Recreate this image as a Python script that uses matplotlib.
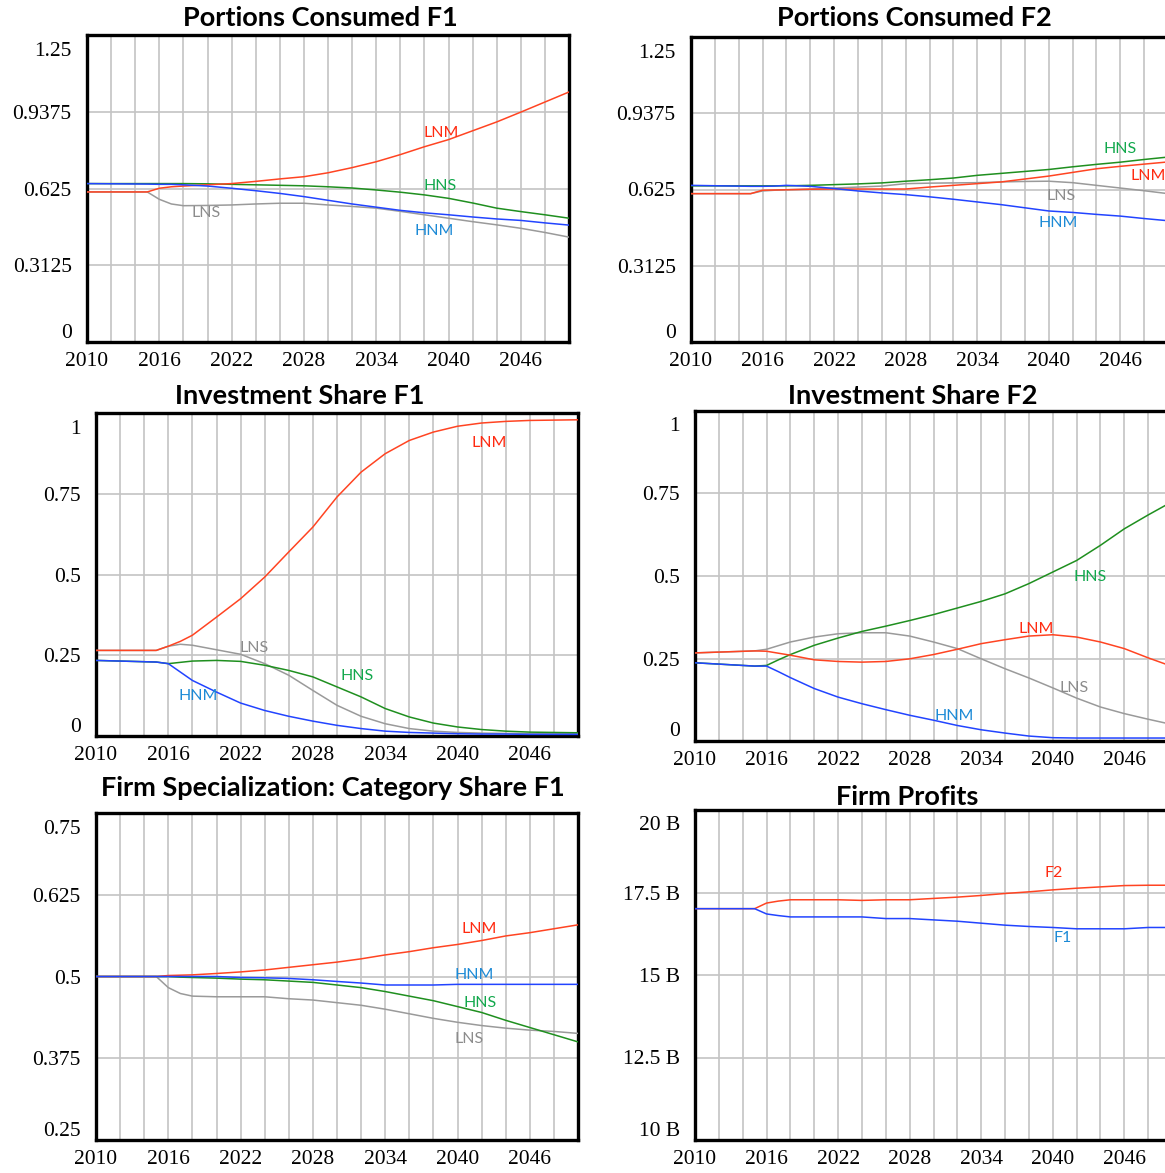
import matplotlib
matplotlib.use("Agg")
import matplotlib.pyplot as plt
from matplotlib.ticker import MultipleLocator, FixedLocator

# ---- data ----
YEARS = [2010, 2015, 2016, 2017, 2018, 2020, 2022, 2024, 2026, 2028, 2030,
         2032, 2034, 2036, 2038, 2040, 2042, 2044, 2046, 2048, 2050]

# Portions Consumed F1
pc1_lnm = [.611, .611, .626, .632, .635, .640, .645, .654, .664, .673, .689,
           .710, .734, .763, .795, .824, .860, .896, .936, .977, 1.018]
pc1_hns = [.645, .645, .645, .645, .645, .644, .642, .640, .638, .636, .632,
           .627, .619, .610, .599, .585, .566, .545, .531, .518, .504]
pc1_hnm = [.645, .643, .642, .642, .640, .635, .626, .616, .605, .592, .577,
           .562, .549, .536, .526, .518, .509, .501, .495, .485, .476]
pc1_lns = [.611, .611, .581, .562, .555, .556, .558, .562, .565, .565, .558,
           .552, .545, .532, .518, .504, .490, .477, .463, .446, .427]

# Portions Consumed F2
pc2_lnm = [.608, .608, .622, .623, .624, .626, .627, .627, .627, .627, .635,
           .642, .649, .656, .668, .680, .695, .710, .720, .729, .738]
pc2_hns = [.640, .640, .640, .640, .640, .642, .645, .648, .652, .659, .665,
           .672, .683, .691, .699, .707, .718, .728, .737, .748, .758]
pc2_hnm = [.642, .638, .638, .639, .642, .638, .629, .619, .611, .604, .595,
           .585, .574, .563, .550, .537, .531, .523, .516, .506, .497]
pc2_lns = [.608, .608, .619, .622, .624, .627, .631, .635, .639, .649, .651,
           .652, .653, .656, .658, .659, .653, .642, .631, .620, .608]

# Investment Share F1
is1_lnm = [.265, .265, .278, .293, .312, .368, .425, .492, .570, .647, .740,
           .817, .874, .915, .941, .959, .969, .974, .977, .978, .979]
is1_hnm = [.234, .229, .224, .198, .172, .136, .102, .079, .061, .046, .033,
           .023, .015, .011, .009, .007, .006, .006, .005, .005, .005]
is1_hns = [.234, .229, .224, .228, .232, .234, .231, .219, .203, .183, .152,
           .121, .085, .059, .040, .028, .020, .015, .012, .011, .010]
is1_lns = [.265, .265, .278, .284, .281, .267, .253, .224, .188, .141, .095,
           .061, .038, .023, .015, .011, .009, .008, .007, .007, .007]

# Investment Share F2
is2_lnm = [.267, .273, .272, .266, .260, .246, .241, .239, .241, .249, .262,
           .278, .295, .307, .318, .322, .315, .300, .280, .252, .226]
is2_hnm = [.237, .227, .227, .210, .192, .159, .133, .113, .095, .078, .063,
           .047, .034, .024, .015, .010, .009, .009, .009, .009, .009]
is2_hns = [.237, .227, .229, .246, .262, .290, .312, .332, .348, .365, .383,
           .403, .423, .446, .477, .512, .547, .593, .643, .685, .725]
is2_lns = [.267, .273, .278, .289, .300, .315, .325, .328, .328, .318, .300,
           .280, .249, .219, .191, .161, .130, .103, .083, .066, .050]

# Firm Specialization: Category Share F1
fs1_lnm = [.5, .5, .5015, .502, .5025, .5046, .507, .510, .514, .518, .522,
           .527, .533, .538, .544, .549, .555, .562, .567, .573, .579]
fs1_hnm = [.5, .5, .5, .5, .5, .5, .4985, .498, .497, .495, .4924,
           .490, .487, .487, .487, .488, .488, .488, .488, .488, .488]
fs1_hns = [.5, .5, .5, .499, .4985, .4975, .496, .495, .493, .491, .487,
           .483, .477, .470, .463, .454, .445, .433, .422, .411, .400]
fs1_lns = [.5, .5, .483, .474, .470, .469, .469, .469, .466, .464, .460,
           .456, .450, .443, .436, .430, .425, .421, .418, .416, .413]

# Firm Profits (billions)
fp_f1 = [17.01, 17.01, 16.85, 16.80, 16.76, 16.76, 16.76, 16.76, 16.71, 16.71, 16.67,
         16.63, 16.57, 16.51, 16.47, 16.44, 16.40, 16.40, 16.40, 16.44, 16.44]
fp_f2 = [17.01, 17.01, 17.18, 17.24, 17.28, 17.28, 17.28, 17.26, 17.28, 17.28, 17.32,
         17.36, 17.41, 17.47, 17.52, 17.58, 17.63, 17.67, 17.71, 17.72, 17.72]

XTICKS = [2010, 2016, 2022, 2028, 2034, 2040, 2046]

# ---- style ----
W, H = 1165, 1173
LINE = {"LNM": "#ff4422", "HNS": "#1f8f1f", "HNM": "#2244ff", "LNS": "#9a9a9a",
        "F2": "#ff4422", "F1": "#2244ff"}
TEXT = {"LNM": "#ff2a10", "HNS": "#12a84c", "HNM": "#1c8ad6", "LNS": "#8c8c8c",
        "F2": "#ff2a10", "F1": "#1c8ad6"}
TICK_FONT = "Liberation Serif"
LABEL_FONT = "Lato"
TICK_SIZE = 15.5

fig = plt.figure(figsize=(W / 100, H / 100), dpi=100)


def make_axes(left, top, right, bottom, yticks, ylabels, title, title_xy):
    ax = fig.add_axes([left / W, 1 - bottom / H, (right - left) / W, (bottom - top) / H])
    ax.set_xlim(2010, 2050)
    ax.set_ylim(yticks[0], yticks[-1])
    ax.xaxis.set_major_locator(FixedLocator(XTICKS))
    ax.xaxis.set_minor_locator(MultipleLocator(2))
    ax.yaxis.set_major_locator(FixedLocator(yticks))
    # end labels sit inside the plot height, Vensim style
    ax.set_yticklabels([""] + ylabels[1:-1] + [""])
    ax.grid(True, which="both", axis="x", color="#c4c4c4", lw=1.2)
    ax.grid(True, which="major", axis="y", color="#c4c4c4", lw=1.2)
    ax.set_axisbelow(True)
    ax.tick_params(which="both", length=0)
    ax.tick_params(axis="x", pad=7, labelsize=TICK_SIZE)
    ax.tick_params(axis="y", pad=11, labelsize=TICK_SIZE)
    for lab in ax.get_xticklabels() + ax.get_yticklabels():
        lab.set_fontfamily(TICK_FONT)
    # offsets in pixels (72/100 points per pixel at dpi 100)
    for frac, off, text in [(0, 9, ylabels[0]), (1, -16, ylabels[-1])]:
        ax.annotate(text, xy=(0, frac), xycoords="axes fraction",
                    xytext=(-15 * 0.72, off * 0.72), textcoords="offset points",
                    ha="right", va="center", fontsize=TICK_SIZE, family=TICK_FONT)
    for s in ax.spines.values():
        s.set_linewidth(2.4)
        s.set_color("black")
    fig.text(title_xy[0] / W, 1 - title_xy[1] / H, title, ha="center", va="center",
             fontsize=19.5, fontweight="bold", family=LABEL_FONT)
    return ax


def draw(ax, series, labels):
    # draw order: gray, green, red, blue (blue ends up on top)
    for z, (name, vals) in enumerate(series):
        ax.plot(YEARS, vals, color=LINE[name], lw=1.1, zorder=3 + z)
    for name, (x, y) in labels.items():
        ax.text(x, y, name, color=TEXT[name], fontsize=11.5, family=LABEL_FONT,
                ha="center", va="center", zorder=10)


# Portions Consumed F1
ax1 = make_axes(87, 35, 569, 342, [0, 0.3125, 0.625, 0.9375, 1.25],
                ["0", "0.3125", "0.625", "0.9375", "1.25"],
                "Portions Consumed F1", (320, 18))
draw(ax1, [("LNS", pc1_lns), ("HNS", pc1_hns), ("LNM", pc1_lnm), ("HNM", pc1_hnm)],
     {"LNM": (2039.4, 0.852), "HNS": (2039.3, 0.637), "LNS": (2019.9, 0.524),
      "HNM": (2038.8, 0.450)})

# Portions Consumed F2 (right edge cut off as in the original screenshot)
ax2 = make_axes(691, 37, 1168, 342, [0, 0.3125, 0.625, 0.9375, 1.25],
                ["0", "0.3125", "0.625", "0.9375", "1.25"],
                "Portions Consumed F2", (914, 18))
draw(ax2, [("LNS", pc2_lns), ("HNS", pc2_hns), ("LNM", pc2_lnm), ("HNM", pc2_hnm)],
     {"HNS": (2046.0, 0.791), "LNM": (2048.3, 0.680), "LNS": (2041.0, 0.598),
      "HNM": (2040.8, 0.488)})

# Investment Share F1
ax3 = make_axes(96, 413, 578, 736, [0, 0.25, 0.5, 0.75, 1],
                ["0", "0.25", "0.5", "0.75", "1"],
                "Investment Share F1", (300, 396))
draw(ax3, [("LNS", is1_lns), ("HNS", is1_hns), ("LNM", is1_lnm), ("HNM", is1_hnm)],
     {"LNM": (2042.6, 0.907), "LNS": (2023.1, 0.272), "HNS": (2031.7, 0.186),
      "HNM": (2018.5, 0.124)})

# Investment Share F2
ax4 = make_axes(695, 411, 1172, 741, [0, 0.25, 0.5, 0.75, 1],
                ["0", "0.25", "0.5", "0.75", "1"],
                "Investment Share F2", (913, 396))
draw(ax4, [("LNS", is2_lns), ("HNS", is2_hns), ("LNM", is2_lnm), ("HNM", is2_hnm)],
     {"HNS": (2043.1, 0.498), "LNM": (2038.6, 0.339), "LNS": (2041.8, 0.162),
      "HNM": (2031.7, 0.076)})

# Firm Specialization: Category Share F1
ax5 = make_axes(96, 813, 578, 1140, [0.25, 0.375, 0.5, 0.625, 0.75],
                ["0.25", "0.375", "0.5", "0.625", "0.75"],
                "Firm Specialization: Category Share F1", (333, 788))
draw(ax5, [("LNS", fs1_lns), ("HNS", fs1_hns), ("LNM", fs1_lnm), ("HNM", fs1_hnm)],
     {"LNM": (2041.8, 0.573), "HNM": (2041.4, 0.503), "HNS": (2041.9, 0.460),
      "LNS": (2041.0, 0.404)})

# Firm Profits
ax6 = make_axes(695, 810, 1172, 1140, [10, 12.5, 15, 17.5, 20],
                ["10 B", "12.5 B", "15 B", "17.5 B", "20 B"],
                "Firm Profits", (907, 797))
draw(ax6, [("F2", fp_f2), ("F1", fp_f1)],
     {"F2": (2040.1, 18.09), "F1": (2040.8, 16.12)})

fig.savefig("out.png", dpi=100)
